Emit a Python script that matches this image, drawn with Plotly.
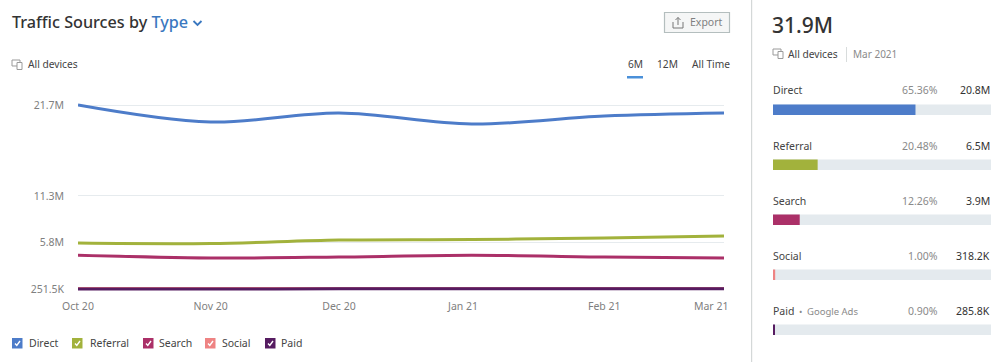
import plotly.graph_objects as go

W, H = 1000, 362
FONT = "Noto Sans"

months = ["2020-10-01", "2020-11-01", "2020-12-01", "2021-01-01", "2021-02-01", "2021-03-01"]
direct = [21.7, 19.72, 20.77, 19.49, 20.42, 20.77]
referral = [5.6, 5.55, 5.96, 6.02, 6.2, 6.43]
search = [4.2, 3.87, 3.98, 4.2, 3.98, 3.87]
social = [0.30, 0.30, 0.31, 0.31, 0.31, 0.318]
paid = [0.2515, 0.26, 0.27, 0.28, 0.28, 0.2858]

names = ["Direct", "Referral", "Search", "Social", "Paid"]
colors = ["#4d7cc9", "#a2b23c", "#ab3068", "#ee8383", "#561c61"]
shares = [65.36, 20.48, 12.26, 1.00, 0.90]
share_labels = ["65.36%", "20.48%", "12.26%", "1.00%", "0.90%"]
value_labels = ["20.8M", "6.5M", "3.9M", "318.2K", "285.8K"]
track = [100, 100, 100, 100, 100]

y_ticks = [0.2515, 5.72, 11.1, 21.7]
y_labels = ["251.5K", "5.8M", "11.3M", "21.7M"]
x_ticks = ["2020-10-01", "2020-11-01", "2020-12-01", "2020-12-30", "2021-02-01", "2021-02-26"]
x_labels = ["Oct 20", "Nov 20", "Dec 20", "Jan 21", "Feb 21", "Mar 21"]


def px(x):
    return x / W


def py(y):
    return 1 - y / H


def val_at(y):
    return 0.2515 + (289 - y) * (21.7 - 0.2515) / 184


fig = go.Figure()
for name, col, vals in zip(names, colors, [direct, referral, search, social, paid]):
    fig.add_trace(go.Scatter(x=months, y=vals, name=name, mode="lines",
                             line=dict(color=col, width=3, shape="spline", smoothing=1.0),
                             xaxis="x", yaxis="y"))
fig.add_trace(go.Bar(y=names, x=track, orientation="h", marker=dict(color="#e4eaee", line_width=0),
                     width=0.19, xaxis="x2", yaxis="y2"))
fig.add_trace(go.Bar(y=names, x=shares, orientation="h", marker=dict(color=colors, line_width=0),
                     width=0.19, xaxis="x2", yaxis="y2"))

ann, shapes = [], []


def text(x, y, s, size=10.5, color="#333333", anchor="left", **kw):
    ann.append(dict(x=px(x), y=py(y), xref="paper", yref="paper", text=s, showarrow=False,
                    xanchor=anchor, yanchor="middle", align=anchor,
                    font=dict(family=FONT, size=size, color=color, **kw), xshift=0, yshift=0,
                    borderpad=0, borderwidth=0))


def path(points, line="#999999", fill=None, width=1, close=False):
    d = "M" + " L".join(f"{px(a):.5f},{py(b):.5f}" for a, b in points) + (" Z" if close else "")
    shapes.append(dict(type="path", xref="paper", yref="paper", path=d,
                       line=dict(color=line, width=width), fillcolor=fill, layer="above"))


def rect(x0, y0, x1, y1, fill=None, line=None, width=1):
    shapes.append(dict(type="rect", xref="paper", yref="paper", x0=px(x0), x1=px(x1), y0=py(y0), y1=py(y1),
                       fillcolor=fill or "rgba(0,0,0,0)",
                       line=dict(color=line or "rgba(0,0,0,0)", width=width if line else 0), layer="above"))


def device(x, y):
    path([(x + 5, y + 6), (x, y + 6), (x, y), (x + 8, y), (x + 8, y + 2)], "#9a9a9a")
    rect(x + 5, y + 2.5, x + 10, y + 9.5, None, "#9a9a9a")


# header
text(12, 22, 'Traffic Sources by <span style="color:#3a78c0">Type</span>', size=16.2, color="#333333", weight=500)
path([(193.5, 21), (197.5, 25), (201.5, 21)], "#3a78c0", width=1.8)
device(12, 60)
text(28, 64.5, "All devices", size=10.2, color="#444444")
rect(664.5, 12.5, 729.5, 32.5, "#f5f6f6", "#b4bebe", 1.2)
path([(673, 22), (673, 28), (683, 28), (683, 22)], "#777777")
path([(678, 25), (678, 17.5)], "#777777")
path([(675.5, 20), (678, 17.5), (680.5, 20)], "#777777")
text(690, 22, "Export", size=10.5, color="#808080")
for x, s in [(635, "6M"), (667.5, "12M"), (711, "All Time")]:
    text(x, 64.5, s, size=10.2, color="#444444", anchor="center")
rect(627, 76, 643, 78.5, "#4a90d9")

# legend
for x, lx, name, col in zip([12, 72, 143, 205, 265], [29, 90, 159, 222, 281], names, colors):
    rect(x, 338, x + 10.5, 348.5, col, None)
    path([(x + 3, 343.5), (x + 4.8, 345.5), (x + 8, 341)], "#ffffff", width=1.4)
    text(lx, 342.8, name, size=10.5, color="#444444")

# right panel
rect(751, 0, 752.2, H, "#d4d8d8")
text(772, 25.3, "31.9M", size=21, color="#333333", weight=500)
device(773, 49)
text(788, 54, "All devices", size=10.2, color="#444444")
rect(846, 47, 847, 62, "#d8dcdc")
text(853, 54, "Mar 2021", size=10, color="#8a8a8a")
for name, sl, vl, y in zip(names, share_labels, value_labels, [89.8, 145.8, 200.8, 255.8, 310.8]):
    text(773, y, name, size=10.5, color="#444444")
    text(938, y, sl, size=10.5, color="#8a8a8a", anchor="right")
    text(990, y, vl, size=10.5, color="#333333", anchor="right")
text(799, 311.3, "•", size=9, color="#8a8a8a")
text(807, 311.3, "Google Ads", size=9.5, color="#8a8a8a")

fig.update_layout(
    width=W, height=H, autosize=False, showlegend=False, barmode="overlay",
    margin=dict(l=0, r=0, t=0, b=0), paper_bgcolor="#ffffff", plot_bgcolor="#ffffff",
    font=dict(family=FONT, size=10.5, color="#808080"),
    xaxis=dict(domain=[px(78), px(724)], range=[months[0], months[-1]], type="date", automargin=False,
               tickmode="array", tickvals=x_ticks, ticktext=x_labels, showgrid=False, zeroline=False,
               showline=False, ticks="", tickfont=dict(size=10.5, color="#808080"), anchor="y", ticklabelstandoff=2),
    yaxis=dict(domain=[py(296), py(90)], range=[val_at(296), val_at(90)], tickmode="array", automargin=False,
               tickvals=y_ticks, ticktext=y_labels, gridcolor="#e6ebee", gridwidth=1, zeroline=False,
               showline=False, ticks="", tickfont=dict(size=10.5, color="#808080"), anchor="x", ticklabelstandoff=13),
    xaxis2=dict(domain=[px(773), px(991)], range=[0, 100], visible=False, anchor="y2", automargin=False),
    yaxis2=dict(domain=[py(357.2), py(82.2)], autorange="reversed", visible=False, anchor="x2", automargin=False,
                categoryorder="array", categoryarray=names),
    annotations=ann, shapes=shapes,
)
fig.write_html("out.html", post_script="document.body.style.margin='0';", config={"displayModeBar": False})
